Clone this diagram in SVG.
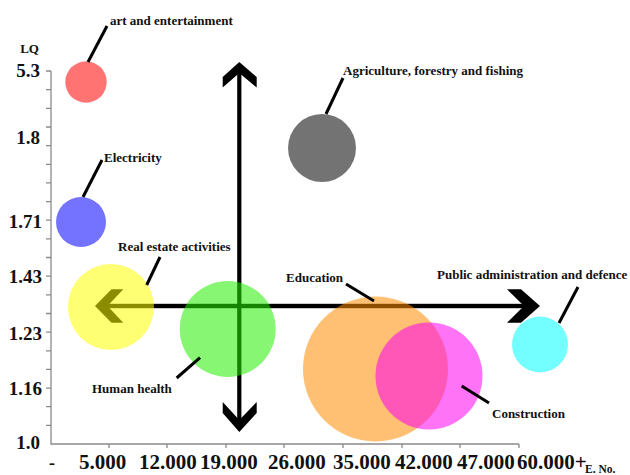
<svg xmlns="http://www.w3.org/2000/svg" width="630" height="475" viewBox="0 0 630 475">
<defs>
<style>
.ax{stroke:#8a8a8a;stroke-width:1.3;fill:none}
.yl{font-family:"Liberation Serif","Times New Roman",serif;font-weight:bold;font-size:19px;fill:#111;text-anchor:end}
.xl{font-family:"Liberation Serif","Times New Roman",serif;font-weight:bold;font-size:21px;fill:#111}
.lb{font-family:"Liberation Serif","Times New Roman",serif;font-weight:bold;font-size:13px;fill:#111}
.ld{stroke:#000;stroke-width:3;fill:none}
.arr{fill:#000}
.bub{fill-opacity:0.55}
</style>
</defs>
<rect width="630" height="475" fill="#fff"/>
<g id="axes">
<path class="ax" d="M51 71V444H519"/>
<path class="ax" d="M46 71H51M46 89.7H51M46 108.3H51M46 127H51M46 145.6H51M46 164.3H51M46 182.9H51M46 201.6H51M46 220.2H51M46 238.9H51M46 257.5H51M46 276.2H51M46 294.8H51M46 313.5H51M46 332.1H51M46 350.8H51M46 369.4H51M46 388.1H51M46 406.7H51M46 425.4H51"/>
<path class="ax" d="M109 444V448M167 444V448M226 444V448M284 444V448M343 444V448M402 444V448M460 444V448M519 444V448"/>
<text x="39" y="53" class="lb" style="text-anchor:end">LQ</text>
<text x="40" y="77" class="yl">5.3</text>
<text x="40" y="144" class="yl">1.8</text>
<text x="42" y="228" class="yl">1.71</text>
<text x="42" y="283" class="yl">1.43</text>
<text x="42" y="340" class="yl">1.23</text>
<text x="42" y="395" class="yl">1.16</text>
<text x="40" y="449" class="yl">1.0</text>
<text x="49" y="469" class="xl" style="font-size:18px">-</text>
<text x="79" y="469" class="xl">5.000</text>
<text x="139" y="469" class="xl">12.000</text>
<text x="200" y="469" class="xl">19.000</text>
<text x="268" y="469" class="xl">26.000</text>
<text x="333" y="469" class="xl">35.000</text>
<text x="395" y="469" class="xl">42.000</text>
<text x="457" y="469" class="xl">47.000</text>
<text x="517" y="469" class="xl">60.000+</text>
<text x="585" y="473" class="lb" style="font-size:11.5px">E. No.</text>
</g>
<g id="connectors">
<rect class="arr" x="237.2" y="70" width="4.2" height="354"/>
<polygon class="arr" points="239.3,62 256.7,77 256.7,87.5 239.3,73 222.7,87.5 222.7,77"/>
<polygon class="arr" points="239.3,432 256.7,413 256.7,402 239.3,420 222.7,402 222.7,413"/>
<rect class="arr" x="106" y="303.8" width="421" height="4.4"/>
<polygon class="arr" points="95,306 111.5,289.3 123.3,289.3 107.5,306 123.3,322.7 111.5,322.7"/>
<polygon class="arr" points="540,306 521,289.3 507,289.3 524,306 507,322.7 521,322.7"/>
</g>
<g id="art-and-entertainment">
<circle class="bub" cx="86" cy="82" r="20.7" fill="#ff0000"/>
<path class="ld" d="M88 62L107 26"/>
<text x="110" y="25" class="lb">art and entertainment</text>
</g>
<g id="electricity">
<circle class="bub" cx="81" cy="222" r="25" fill="#0000ff"/>
<path class="ld" d="M83 197L102 160"/>
<text x="104" y="162" class="lb">Electricity</text>
</g>
<g id="agriculture">
<circle class="bub" cx="322" cy="148" r="34" fill="#000000" fill-opacity="0.5"/>
<path class="ld" d="M326 114L343 78"/>
<text x="343" y="75" class="lb">Agriculture, forestry and fishing</text>
</g>
<g id="real-estate">
<circle class="bub" cx="111" cy="307" r="43" fill="#ffff00"/>
<path class="ld" d="M146.7 285L160 257"/>
<text x="118" y="251" class="lb">Real estate activities</text>
</g>
<g id="human-health">
<circle class="bub" cx="227.7" cy="329" r="48" fill="#22ee00"/>
<path class="ld" d="M176.7 378L200 357.7"/>
<text x="92" y="393" class="lb">Human health</text>
</g>
<g id="education">
<circle class="bub" cx="375.5" cy="369" r="72.5" fill="#ff8c00"/>
<path class="ld" d="M346 284L374 301"/>
<text x="286" y="282" class="lb">Education</text>
</g>
<g id="construction">
<circle class="bub" cx="429" cy="376" r="53.5" fill="#ff00ee"/>
<path class="ld" d="M461.7 386L489 403"/>
<text x="492" y="418" class="lb">Construction</text>
</g>
<g id="public-administration">
<circle class="bub" cx="540" cy="344.5" r="28" fill="#00ffff"/>
<path class="ld" d="M578 287L559 323"/>
<text x="437" y="279" class="lb">Public administration and defence</text>
</g>
</svg>
